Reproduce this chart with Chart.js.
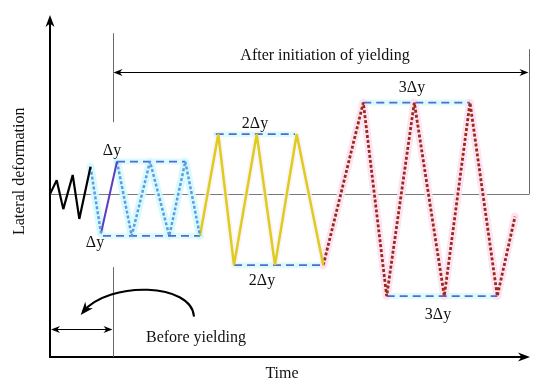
<!DOCTYPE html>
<html><head><meta charset="utf-8">
<script src="https://cdn.jsdelivr.net/npm/chart.js@4/dist/chart.umd.min.js"></script>
<style>html,body{margin:0;padding:0;background:#fff}#wrap{width:550px;height:390px;position:relative}</style>
</head><body><div id="wrap"><canvas id="c"></canvas></div>
<script>
// ---- data (time units, deformation units; Δy ≈ 1) ----
const preTime   = [0, 0.67, 1.33, 2.27, 2.93, 4.05];
const preDef    = [0, 0.43, -0.46, 0.59, -0.76, 0.84];
const firstTime = [4.05, 5.1];
const firstDef  = [0.84, -1.2];
const loadTime  = [5.1, 6.7];
const loadDef   = [-1.2, 1.0];
const cyc1Time  = [6.7, 8.17, 10.0, 11.93, 13.53, 15.0];
const cyc1Def   = [1.0, -1.28, 1.0, -1.28, 1.0, -1.28];
const cyc2Time  = [15.0, 16.83, 18.4, 20.67, 22.5, 24.67, 27.33];
const cyc2Def   = [-1.28, 1.84, -2.18, 1.84, -2.18, 1.84, -2.18];
const cyc3Time  = [27.33, 31.33, 33.67, 36.43, 39.43, 42.0, 44.73, 46.5];
const cyc3Def   = [-2.18, 2.81, -3.13, 2.81, -3.13, 2.81, -3.13, -0.69];
// amplitude envelopes
const envStart  = [6.7, 5.3, 16.57, 18.4, 31.33, 33.67];
const envEnd    = [13.53, 15.0, 24.5, 27.33, 42.0, 44.73];
const envLevel  = [1.0, -1.28, 1.84, -2.18, 2.81, -3.13];
const envLabels = ['Δy', 'Δy', '2Δy', '2Δy', '3Δy', '3Δy'];
const yieldTime = 6.25;
const endTime   = 47.93;

const zip = (xs, ys) => xs.map((x, i) => ({x, y: ys[i]}));

// label placement (not data)
const labelPos = [[6.2,1.32],[4.5,-1.5],[20.5,2.15],[21.2,-2.67],[36.2,3.26],[38.8,-3.71]];

const datasets = [];
function line(pts, color, width, dash, order, join) {
  datasets.push({data: pts, borderColor: color, borderWidth: width, borderDash: dash || [],
    showLine: true, pointRadius: 0, fill: false, tension: 0, order: order || 0, clip: false,
    borderCapStyle: join === 'round' ? 'round' : 'butt', borderJoinStyle: join || 'bevel'});
}
// glows (drawn first)
line(zip(firstTime, firstDef), 'rgba(212,249,252,0.9)', 8, [], 20, 'round');
line(zip(cyc1Time, cyc1Def), 'rgba(212,249,252,0.9)', 8, [], 20, 'round');
line(zip(cyc3Time, cyc3Def), 'rgba(253,225,242,0.9)', 8, [], 20, 'round');
line(zip(cyc2Time, cyc2Def), 'rgba(253,238,245,0.7)', 6, [], 20, 'round');
envStart.forEach((s, i) => line(zip([s, envEnd[i]], [envLevel[i], envLevel[i]]), 'rgba(220,250,252,0.9)', 6, [], 20, 'round'));
// envelope dashed lines
envStart.forEach((s, i) => line(zip([s, envEnd[i]], [envLevel[i], envLevel[i]]), '#4a6fcc', 1.8, [8, 5], 5));
// main curves
line(zip(preTime, preDef), '#000000', 2.2, [], 0);
line(zip(firstTime, firstDef), '#5d9be6', 2.5, [3, 2], 0);
line(zip(loadTime, loadDef), '#5a3ec0', 2, [], 0);
line(zip(cyc1Time, cyc1Def), '#5d9be6', 2.5, [3, 2], 0);
line(zip(cyc2Time, cyc2Def), '#dccd1e', 2.5, [], 0);
line(zip(cyc3Time, cyc3Def), '#9c2a1c', 2.8, [3, 2], 0);

const FONT = '16px "Liberation Serif", "Times New Roman", serif';

function arrowHead(ctx, x, y, ang, len, wid) {
  ctx.save();
  ctx.translate(x, y); ctx.rotate(ang);
  ctx.beginPath();
  ctx.moveTo(0, 0);
  ctx.lineTo(-len, -wid / 2);
  ctx.lineTo(-len * 0.7, 0);
  ctx.lineTo(-len, wid / 2);
  ctx.closePath();
  ctx.fill();
  ctx.restore();
}

const under = {
  id: 'under',
  beforeDatasetsDraw(chart) {
    const {ctx, chartArea: a, scales: {x, y}} = chart;
    ctx.save();
    ctx.strokeStyle = '#7a7a7a'; ctx.lineWidth = 1;
    ctx.beginPath();
    ctx.moveTo(a.left, Math.round(y.getPixelForValue(0)) + 0.5);
    ctx.lineTo(x.getPixelForValue(endTime), Math.round(y.getPixelForValue(0)) + 0.5);
    ctx.stroke();
    ctx.restore();
  }
};

const over = {
  id: 'over',
  afterDraw(chart) {
    const {ctx, chartArea: a, scales: {x, y}} = chart;
    const X = v => x.getPixelForValue(v), Y = v => y.getPixelForValue(v);
    ctx.save();
    // axes
    ctx.strokeStyle = '#000'; ctx.fillStyle = '#000'; ctx.lineWidth = 2;
    ctx.beginPath();
    ctx.moveTo(a.left, a.top + 6); ctx.lineTo(a.left, a.bottom); ctx.lineTo(a.right - 6, a.bottom);
    ctx.stroke();
    arrowHead(ctx, a.left, a.top, -Math.PI / 2, 12, 9);
    arrowHead(ctx, a.right, a.bottom, 0, 12, 9);

    // yield marker lines
    const xy = Math.round(X(yieldTime)) + 0.5, xe = Math.round(X(endTime)) + 0.5;
    ctx.strokeStyle = '#6a6a6a'; ctx.lineWidth = 1;
    ctx.beginPath();
    ctx.moveTo(xy, Y(4.94)); ctx.lineTo(xy, Y(2.21));
    ctx.moveTo(xy, Y(-2.24)); ctx.lineTo(xy, a.bottom);
    ctx.moveTo(xe, Y(4.45)); ctx.lineTo(xe, Y(0));
    ctx.stroke();

    // after-yield dimension arrow
    ctx.strokeStyle = '#000'; ctx.fillStyle = '#000';
    const ya = Math.round(Y(3.75)) + 0.5;
    ctx.beginPath(); ctx.moveTo(xy + 4, ya); ctx.lineTo(xe - 4, ya); ctx.stroke();
    arrowHead(ctx, xy, ya, Math.PI, 9, 7);
    arrowHead(ctx, xe - 1, ya, 0, 9, 7);

    // before-yield dimension arrow
    const yb = Math.round(Y(-4.14)) + 0.5;
    ctx.beginPath(); ctx.moveTo(a.left + 4, yb); ctx.lineTo(xy - 4, yb); ctx.stroke();
    arrowHead(ctx, a.left + 1, yb, Math.PI, 9, 7);
    arrowHead(ctx, xy - 1, yb, 0, 9, 7);

    // curved arrow
    ctx.lineWidth = 2;
    const p0 = [X(14.4), Y(-3.76)], c1 = [X(14.2), Y(-2.73)], c2 = [X(6.0), Y(-2.64)], p3 = [X(3.07), Y(-3.71)];
    ctx.beginPath();
    ctx.moveTo(p0[0], p0[1]);
    ctx.bezierCurveTo(c1[0], c1[1], c2[0], c2[1], p3[0] + 2, p3[1] - 3);
    ctx.stroke();
    arrowHead(ctx, p3[0], p3[1], Math.atan2(p3[1] - c2[1], p3[0] - c2[0]), 13, 10);

    // texts
    ctx.font = FONT; ctx.fillStyle = '#111'; ctx.textAlign = 'center'; ctx.textBaseline = 'middle';
    ctx.fillText('After initiation of yielding', X(27.5), Y(4.24));
    ctx.fillText('Before yielding', X(14.6), Y(-4.42));
    envLabels.forEach((t, i) => ctx.fillText(t, X(labelPos[i][0]), Y(labelPos[i][1])));
    ctx.fillText('Time', X(23.2), a.bottom + 17);
    ctx.save();
    ctx.translate(20, Y(0.7));
    ctx.rotate(-Math.PI / 2);
    ctx.fillText('Lateral deformation', 0, 0);
    ctx.restore();
    ctx.restore();
  }
};

new Chart(document.getElementById('c'), {
  type: 'scatter',
  data: {datasets},
  options: {
    responsive: true, maintainAspectRatio: false, animation: false,
    layout: {padding: {left: 50, top: 15, right: 20, bottom: 33}},
    scales: {
      x: {type: 'linear', display: false, min: 0, max: 48},
      y: {type: 'linear', display: false, min: -5, max: 5.5}
    },
    plugins: {legend: {display: false}, tooltip: {enabled: false}}
  },
  plugins: [under, over]
});
</script>
</body></html>
